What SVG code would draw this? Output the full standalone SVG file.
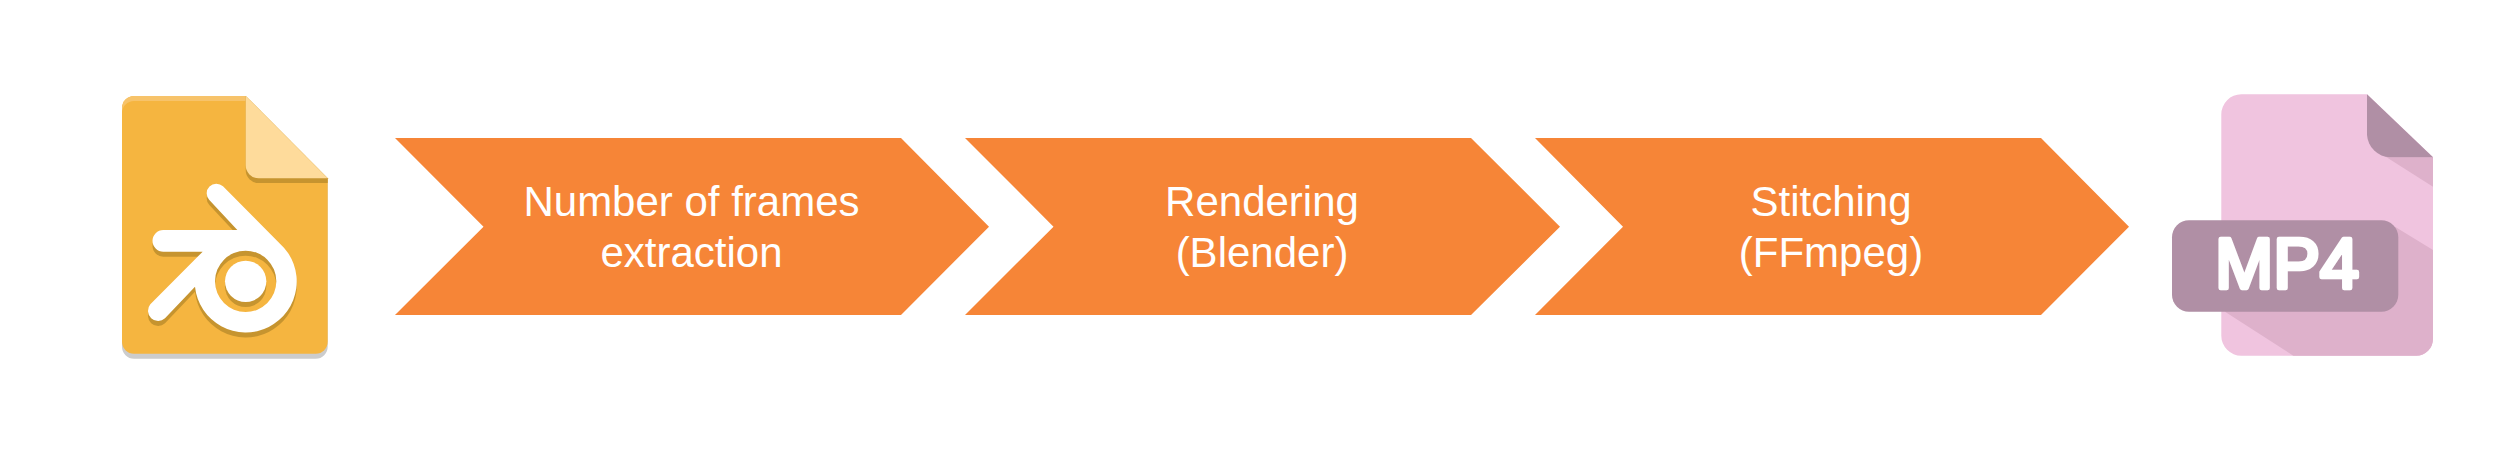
<svg xmlns="http://www.w3.org/2000/svg" xmlns:xlink="http://www.w3.org/1999/xlink" width="2493" height="450" viewBox="0 0 2493 450">
<style>
.step{fill:#f68537}
.label{font-family:"Liberation Sans",Arial,Helvetica,sans-serif;font-size:42px;fill:#fff;text-anchor:middle}
.mp4{font-family:"Liberation Sans",Arial,Helvetica,sans-serif;font-size:70px;fill:#fff;stroke:#fff;stroke-width:4.5;stroke-linejoin:round;text-anchor:middle}
</style>
<defs>
<path id="logo" fill-rule="evenodd" d="M328 390A29 29 0 0 1 369 349L540 521A153 153 0 1 1 285 650L195 745A30.5 30.5 0 0 1 151 703L308 545L190 545A32.500 32.500 0 0 1 190 480L412 480ZM345 634A92 92 0 0 0 529 634A92 92 0 0 0 345 634Z"/>
</defs>
<rect width="2493" height="450" fill="#fff"/>
<g id="blend-file">
<path fill="#cccccc" d="M122 110V346.700A12 12 0 0 0 134 358.700H315.700A12 12 0 0 0 327.700 346.700V180H122Z"/>
<path fill="#f5b540" d="M134 96H245.700L327.700 178.300V341.700A12 12 0 0 1 315.700 353.700H134A12 12 0 0 1 122 341.700V108A12 12 0 0 1 134 96Z"/>
<path fill="#f7c36a" d="M134 96H245.700V101H134A12 12 0 0 0 122 113V108A12 12 0 0 1 134 96Z"/>
<path fill="#c6942f" d="M245.700 101V170A13 13 0 0 0 258.700 183H327.700V178.300L245.700 96Z"/>
<path fill="#fedb9b" d="M245.700 96V165A13 13 0 0 0 258.700 178.300H327.700Z"/>
<g transform="translate(100 70) scale(.33333)">
<use xlink:href="#logo" href="#logo" y="15" fill="#c6942f"/>
<circle cx="437" cy="649" r="62" fill="#c6942f"/>
<use xlink:href="#logo" href="#logo" fill="#fff"/>
<circle cx="437" cy="634" r="62" fill="#fff"/>
</g>
</g>
<g id="step-1">
<polygon class="step" points="395,138 901,138 989,226.700 901,315 395,315 483.500,226.700"/>
<text class="label" x="691.500" y="216">Number of frames</text>
<text class="label" x="691.500" y="267">extraction</text>
</g>
<g id="step-2">
<polygon class="step" points="965,138 1471,138 1560,226.700 1471,315 965,315 1053.500,226.700"/>
<text class="label" x="1262" y="216">Rendering</text>
<text class="label" x="1262" y="267">(Blender)</text>
</g>
<g id="step-3">
<polygon class="step" points="1535,138 2041,138 2129,226.700 2041,315 1535,315 1623,226.700"/>
<text class="label" x="1831" y="216">Stitching</text>
<text class="label" x="1831" y="267">(FFmpeg)</text>
</g>
<g id="mp4-file">
<path fill="#f0c4df" d="M2241.300 94.300H2367L2433 157.300V339A16.700 16.700 0 0 1 2416.300 355.700H2241.300A20 20 0 0 1 2221.300 335.700V114.300A20 20 0 0 1 2241.300 94.300Z"/>
<path fill="#deb1cb" d="M2383 155L2433 186.700V157.300H2390Z"/>
<path fill="#b08fa5" d="M2367 94.300L2433 157.300H2390A24 24 0 0 1 2367 135Z"/>
<path fill="#deb1cb" d="M2395 226.700L2433 250V339A16.700 16.700 0 0 1 2416.300 355.700H2293.300L2225 311.700L2300 240Z"/>
<rect x="2172" y="220.300" width="226.300" height="91.400" rx="17" fill="#b08fa5"/>
<text class="mp4" x="2287" y="288">MP4</text>
</g>
</svg>
